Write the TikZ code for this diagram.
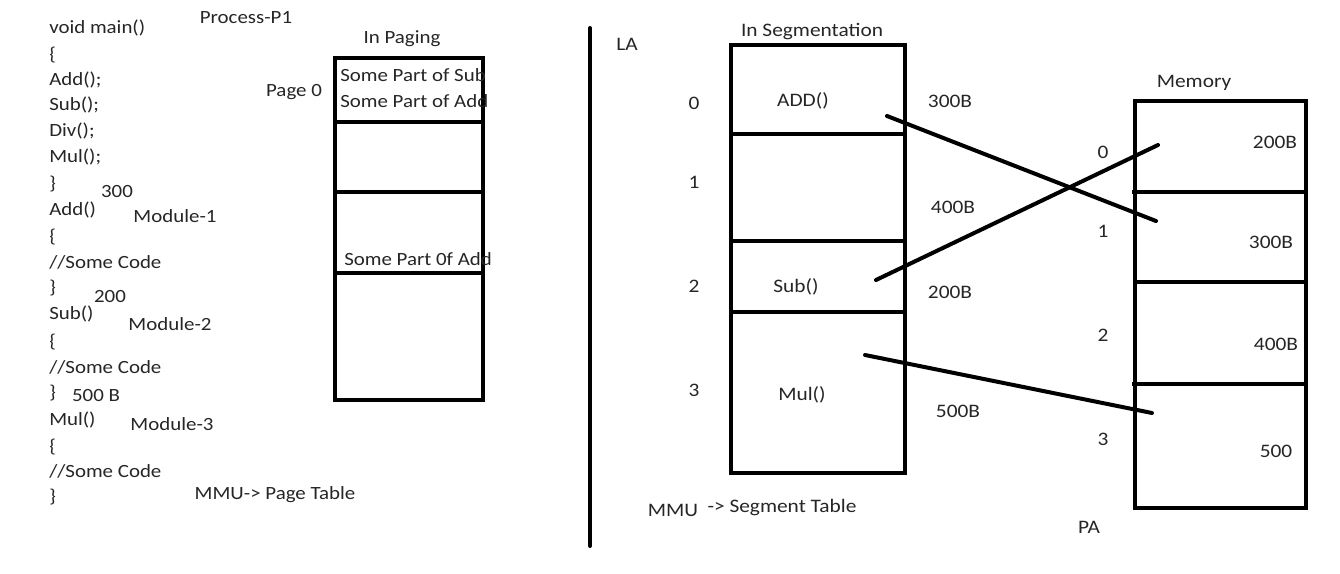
\documentclass[tikz,border=0pt]{standalone}
\usepackage{fontspec}
\setmainfont{Carlito}[FakeStretch=1.12]
\begin{document}
\begin{tikzpicture}[x=0.75pt,y=-0.75pt,
  lbl/.style={inner sep=0pt, font=\fontsize{14pt}{16pt}\selectfont, text=black!85},
  code/.style={lbl, anchor=west},
  rlbl/.style={inner sep=0pt, font=\fontsize{14.3pt}{16pt}\selectfont, text=black!85},
  box/.style={draw, line width=3pt, inner sep=0pt},
  sep/.style={line width=3pt},
  conn/.style={line width=3pt, line cap=round}]
\useasboundingbox (0,0) rectangle (1340,574);
\fill[white] (0,0) rectangle (1340,574);

% ---- left: code listing
\node[code] (c1) at (49,28) {void main()};
\node[code] (c2) at (49,55) {\{};
\node[code] (c3) at (49,80) {Add();};
\node[code] (c4) at (49,105) {Sub();};
\node[code] (c5) at (49,131) {Div();};
\node[code] (c6) at (49,157) {Mul();};
\node[code] (c7) at (49,184) {\}};
\node[code] (c8) at (49,210) {Add()};
\node[code] (c9) at (49,237) {\{};
\node[code] (c10) at (49,262) {//Some Code};
\node[code] (c11) at (49,288) {\}};
\node[code] (c12) at (49,314) {Sub()};
\node[code] (c13) at (49,342) {\{};
\node[code] (c14) at (49,367) {//Some Code};
\node[code] (c15) at (49,393) {\}};
\node[code] (c16) at (49,420) {Mul()};
\node[code] (c17) at (49,447) {\{};
\node[code] (c18) at (49,471) {//Some Code};
\node[code] (c19) at (49,497) {\}};

\node[lbl] (proc) at (246,18) {Process-P1};
\node[lbl] (s300) at (117,192) {300};
\node[lbl] (m1) at (175,216) {Module-1};
\node[lbl] (s200) at (110,297) {200};
\node[lbl] (m2) at (170,324) {Module-2};
\node[lbl] (s500) at (96,396) {500 B};
\node[lbl] (m3) at (172,424) {Module-3};
\node[lbl] (mmu1) at (275,495) {MMU-> Page Table};

% ---- paging box
\node[lbl] (inpag) at (402,39) {In Paging};
\node[lbl] (page0) at (294,92) {Page 0};
\node[box, minimum width=148*0.75pt, minimum height=342*0.75pt] (pbox) at (409,229) {};
\draw[sep] (335,122) -- (485,122);
\draw[sep] (335,192) -- (483,192);
\draw[sep] (335,273) -- (485,273);
\node[lbl, anchor=west] (p1) at (340,75) {Some Part of Sub};
\node[lbl, anchor=west] (p2) at (340,101) {Some Part of Add};
\node[lbl, anchor=west] (p3) at (344,259) {Some Part 0f Add};

% ---- divider
\draw[conn] (590,28) -- (590,546);

% ---- segmentation
\node[rlbl] (la) at (627,44) {LA};
\node[rlbl] (inseg) at (812,32) {In Segmentation};
\node[box, minimum width=174*0.75pt, minimum height=428*0.75pt] (sbox) at (818,259) {};
\draw[sep] (731,134) -- (905,134);
\draw[sep] (731,241) -- (905,241);
\draw[sep] (731,312) -- (903,312);
\node[rlbl] (l0) at (694,103) {0};
\node[rlbl] (l1) at (694,182) {1};
\node[rlbl] (l2) at (694,286) {2};
\node[rlbl] (l3) at (694,390) {3};
\node[rlbl] (sadd) at (803,101) {ADD()};
\node[rlbl] (ssub) at (796,287) {Sub()};
\node[rlbl] (smul) at (802,395) {Mul()};
\node[rlbl] (z300) at (950,101) {300B};
\node[rlbl] (z400) at (953,207) {400B};
\node[rlbl] (z200) at (950,292) {200B};
\node[rlbl] (z500) at (958,411) {500B};
\node[rlbl] (mmu2a) at (673,510) {MMU};
\node[rlbl] (mmu2b) at (782,508) {-> Segment Table};

% ---- memory
\node[rlbl] (memt) at (1194,83) {Memory};
\node[box, minimum width=171*0.75pt, minimum height=407*0.75pt] (mbox) at (1220.5,304.5) {};
\draw[sep] (1132,192) -- (1306,192);
\draw[sep] (1135,282) -- (1306,282);
\draw[sep] (1132,384) -- (1306,384);
\node[rlbl] (f200) at (1275,142) {200B};
\node[rlbl] (f300) at (1271,242) {300B};
\node[rlbl] (f400) at (1276,344) {400B};
\node[rlbl] (f500) at (1276,451) {500};
\node[rlbl] (p0) at (1103,152) {0};
\node[rlbl] (pp1) at (1103,231) {1};
\node[rlbl] (pp2) at (1103,335) {2};
\node[rlbl] (pp3) at (1103,439) {3};
\node[rlbl] (pa) at (1089,527) {PA};

% ---- mapping connectors
\coordinate (addS) at (887,116);
\coordinate (addE) at (1156,221);
\coordinate (subS) at (876,280);
\coordinate (subE) at (1158,145);
\coordinate (mulS) at (865,355);
\coordinate (mulE) at (1152,413);
\draw[conn] (addS) -- (addE);
\draw[conn] (subS) -- (subE);
\draw[conn] (mulS) -- (mulE);
\end{tikzpicture}
\end{document}
